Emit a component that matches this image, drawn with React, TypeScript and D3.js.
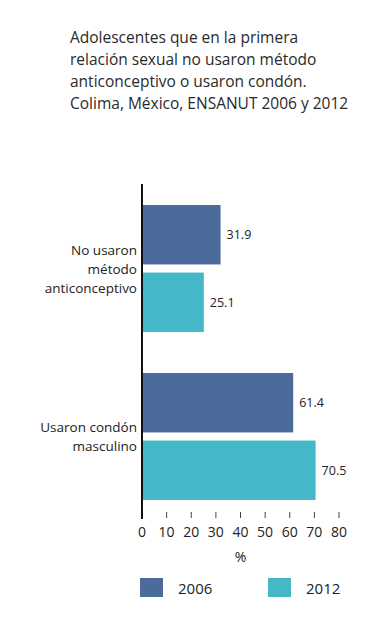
import React from 'react';
import * as d3 from 'd3';

const titleLines = [
  'Adolescentes que en la primera',
  'relación sexual no usaron método',
  'anticonceptivo o usaron condón.',
  'Colima, México, ENSANUT 2006 y 2012',
];
const categories = ['No usaron método anticonceptivo', 'Usaron condón masculino'];
const categoryLines = [['No usaron', 'método', 'anticonceptivo'], ['Usaron condón', 'masculino']];
const years = ['2006', '2012'];
const values2006 = [31.9, 61.4];
const values2012 = [25.1, 70.5];
const ticks = [0, 10, 20, 30, 40, 50, 60, 70, 80];
const colors = ['#4b6b9b', '#45b8c8'];

const App = () => {
  const width = 391;
  const height = 620;
  const font = "'Open Sans', 'Noto Sans', sans-serif";

  const x = d3.scaleLinear().domain([0, 80]).range([142, 339]);
  const y0 = d3.scaleBand().domain(categories).range([188.2, 516.8]).paddingInner(0.244).paddingOuter(0.1);
  const y1 = d3.scaleBand().domain(years).range([0, y0.bandwidth()]).paddingInner(0.12);

  const series = [values2006, values2012];

  return (
    <div style={{ margin: -8 }}>
      <svg width={width} height={height} style={{ display: 'block', background: '#fff' }}>
        <text fontFamily={font} fontSize={15.5} fill="#2a2a2a">
          {titleLines.map((l, i) => (
            <tspan key={i} x={70} y={43 + i * 22}>
              {l}
            </tspan>
          ))}
        </text>

        {categories.map((c, ci) => (
          <g key={c}>
            {years.map((yr, si) => {
              const v = series[si][ci];
              const top = (y0(c) || 0) + (y1(yr) || 0);
              return (
                <g key={yr}>
                  <rect x={x(0)} y={top} width={x(v) - x(0)} height={y1.bandwidth()} fill={colors[si]} />
                  <text
                    x={x(v) + 6}
                    y={top + y1.bandwidth() / 2 + 4.5}
                    fontFamily={font}
                    fontSize={12.5}
                    fill="#222"
                  >
                    {v.toFixed(1)}
                  </text>
                </g>
              );
            })}
            <text fontFamily={font} fontSize={13.5} fill="#222" textAnchor="end">
              {categoryLines[ci].map((l, li) => {
                const mid = (y0(c) || 0) + y0.bandwidth() / 2;
                const n = categoryLines[ci].length;
                return (
                  <tspan key={li} x={137} y={mid + 5 + (li - (n - 1) / 2) * 19}>
                    {l}
                  </tspan>
                );
              })}
            </text>
          </g>
        ))}

        <line x1={x(0)} x2={x(0)} y1={184} y2={519} stroke="#111" strokeWidth={2} />
        {ticks.map((t) => (
          <g key={t}>
            {t > 0 && <line x1={x(t)} x2={x(t)} y1={512} y2={518} stroke="#444" strokeWidth={1} />}
            <text x={x(t)} y={537} textAnchor="middle" fontFamily={font} fontSize={14} fill="#222">
              {t}
            </text>
          </g>
        ))}
        <text x={x(40)} y={562} textAnchor="middle" fontFamily={font} fontSize={14} fill="#222">
          %
        </text>

        {years.map((yr, i) => (
          <g key={yr} transform={`translate(${140 + i * 128},578)`}>
            <rect width={23} height={19} fill={colors[i]} />
            <text x={38} y={16} fontFamily={font} fontSize={15} fill="#222">
              {yr}
            </text>
          </g>
        ))}
      </svg>
    </div>
  );
};

export default App;
